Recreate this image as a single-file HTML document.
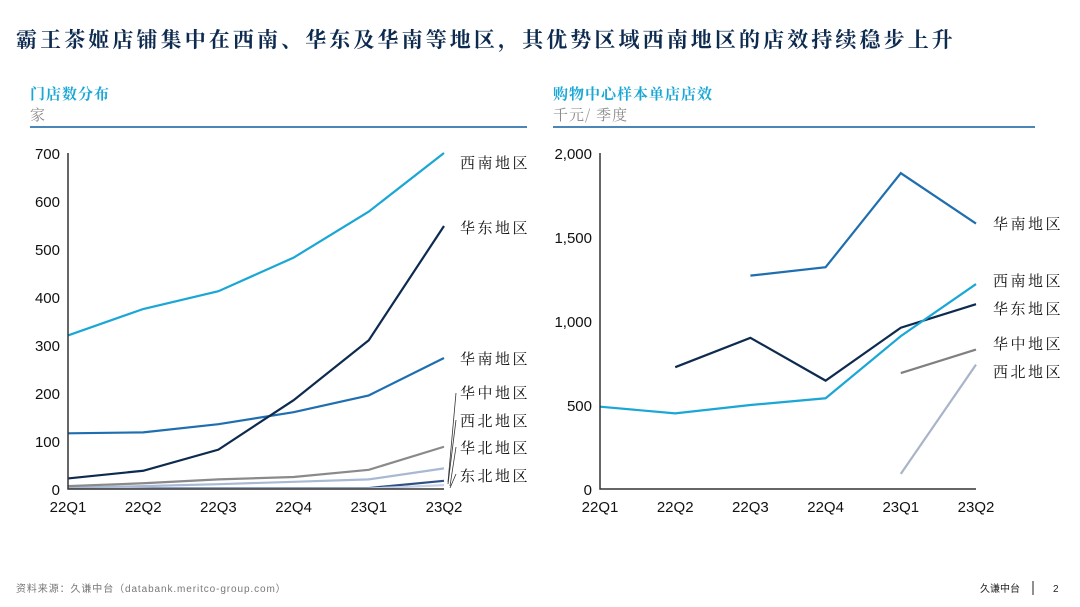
<!DOCTYPE html>
<html><head><meta charset="utf-8"><style>
body{margin:0;width:1080px;height:607px;background:#fff;overflow:hidden;font-family:"Liberation Sans","Noto Sans CJK SC",sans-serif}
svg{position:absolute;left:0;top:0}
</style></head><body>
<svg id="s" width="1080" height="607" viewBox="0 0 1080 607">
<text x="16" y="47" font-size="21" font-weight="bold" fill="#0d2a4f" font-family="'Noto Serif CJK SC',serif" letter-spacing="3.1">霸王茶姬店铺集中在西南、华东及华南等地区，其优势区域西南地区的店效持续稳步上升</text>
<text x="30" y="99" font-size="15" fill="#1aa7d6" font-weight="bold" font-family="'Noto Serif CJK SC',serif" letter-spacing="1">门店数分布</text>
<text x="30" y="120" font-size="15" fill="#8a8a8a" font-family="'Noto Serif CJK SC',serif">家</text>
<line x1="30" y1="127" x2="527" y2="127" stroke="#4a86b8" stroke-width="2"/>
<text x="553" y="99" font-size="15" fill="#1aa7d6" font-weight="bold" font-family="'Noto Serif CJK SC',serif" letter-spacing="1">购物中心样本单店店效</text>
<text x="553" y="120" font-size="15" fill="#8a8a8a" font-family="'Noto Serif CJK SC',serif" letter-spacing="1">千元/ 季度</text>
<line x1="553" y1="127" x2="1035" y2="127" stroke="#4a86b8" stroke-width="2"/>
<text x="16" y="592" font-size="10" fill="#777" letter-spacing="0.9">资料来源：久谦中台（databank.meritco-group.com）</text>
<text x="980" y="592" font-size="10" fill="#222">久谦中台</text>
<line x1="1033" y1="581" x2="1033" y2="595" stroke="#222"/>
<text x="1053" y="592" font-size="10" fill="#222">2</text>
<g id="L"></g><g id="R"></g>
</svg>
<script>
const cats=["22Q1","22Q2","22Q3","22Q4","23Q1","23Q2"];
const lTicks=[0,100,200,300,400,500,600,700];
const lNames=["西南地区","华东地区","华南地区","华中地区","西北地区","华北地区","东北地区"];
const lSW=[320,375,412,482,578,700];
const lEC=[22,38,82,185,310,548];
const lSC=[116,118,135,160,195,273];
const lCC=[6,12,20,25,40,88];
const lNW=[3,6,10,15,20,43];
const lNC=[1,1,1,1,1,8];
const lNE=[2,2,2,2,2,17];
const rTicks=[0,500,1000,1500,2000];
const rSC=[null,null,1270,1320,1880,1580];
const rSW=[490,450,500,540,910,1220];
const rEC=[null,725,900,645,960,1100];
const rCC=[null,null,null,null,690,830];
const rNW=[null,null,null,null,90,740];
const NS="http://www.w3.org/2000/svg";
function mk(p,t,a){const e=document.createElementNS(NS,t);for(const k in a)e.setAttribute(k,a[k]);p.appendChild(e);return e;}
function chart(g,x0,x1,y0,y1,max,ticks,fmt,series){
 const X=i=>x0+i*(x1-x0)/(cats.length-1), Y=v=>y0-(v/max)*(y0-y1);
 ticks.forEach(t=>{const e=mk(g,"text",{x:x0-8,y:Y(t)+6,"font-size":15,"text-anchor":"end",fill:"#111"});e.textContent=fmt(t);
 
 });
 cats.forEach((c,i)=>{const e=mk(g,"text",{x:X(i),y:y0+23,"font-size":15,"text-anchor":"middle",fill:"#111"});e.textContent=c;
 
 });
 series.forEach(s=>{let d="",pen=false;s.v.forEach((v,i)=>{if(v==null){pen=false;return;}d+=(pen?"L":"M")+X(i)+" "+Y(v)+" ";pen=true;});
 const p=mk(g,"path",{d:d,fill:"none",stroke:s.c,"stroke-width":2.2});
 
 });
 const a=mk(g,"path",{d:`M${x0} ${y1}V${y0}H${x1}`,fill:"none",stroke:"#333","stroke-width":1.5});
 
 
 return {X,Y};
}
const L=document.getElementById("L"),R=document.getElementById("R");
chart(L,68,444,489,153,700,lTicks,t=>t,[
 {v:lNE,c:"#2f4f86"},{v:lNC,c:"#c8d3e6"},{v:lNW,c:"#a9b9d3"},{v:lCC,c:"#8a8a8a"},
 {v:lSC,c:"#1f6fb0"},{v:lEC,c:"#0d2a4f"},{v:lSW,c:"#1aa7d6"}]);
chart(R,600,976,489,153,2000,rTicks,t=>t.toLocaleString("en-US"),[
 {v:rNW,c:"#a9b4c8"},{v:rCC,c:"#808080"},{v:rEC,c:"#0d2a4f"},{v:rSW,c:"#1aa7d6"},{v:rSC,c:"#1f6fb0"}]);
function lab(g,x,y,t){const e=mk(g,"text",{x:x,y:y,"font-size":15,fill:"#111","font-family":"'Noto Serif CJK SC',serif","letter-spacing":"2.5"});e.textContent=t;
 
 }
[[460,168,0],[460,233,1],[460,364,2],[460,398,3],[460,426,4],[460,453,5],[460,481,6]].forEach(a=>lab(L,a[0],a[1],lNames[a[2]]));
[[456,393,448,482],[456,420,448,484],[456,447,450,486],[456,474,450,488]].forEach(a=>{const l=mk(L,"line",{x1:a[0],y1:a[1],x2:a[2],y2:a[3],stroke:"#333","stroke-width":0.8});
 
 });
const rNames=["华南地区","西南地区","华东地区","华中地区","西北地区"];
[229,286,314,349,377].forEach((y,i)=>lab(R,993,y,rNames[i]));
</script>
</body></html>
